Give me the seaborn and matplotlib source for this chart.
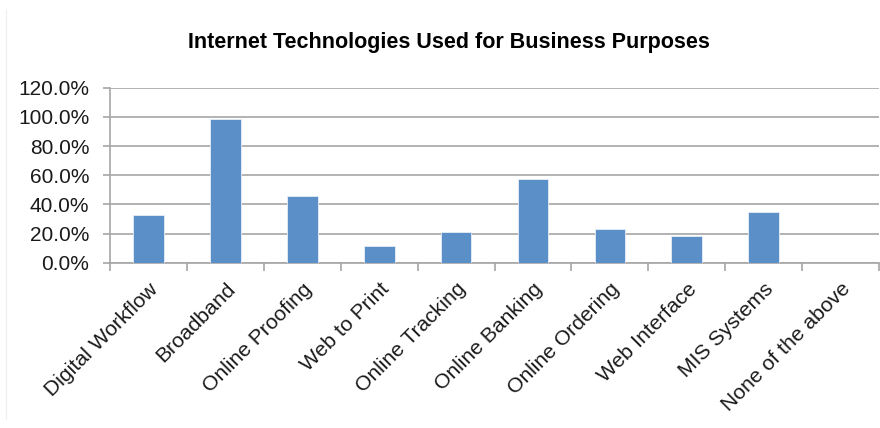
import matplotlib
matplotlib.use("Agg")
import matplotlib.pyplot as plt
import seaborn as sns
import pandas as pd
import numpy as np
from matplotlib.ticker import FixedLocator, PercentFormatter

categories = ["Digital Workflow", "Broadband", "Online Proofing", "Web to Print",
              "Online Tracking", "Online Banking", "Online Ordering", "Web Interface",
              "MIS Systems", "None of the above"]
shares = [33.0, 98.6, 46.1, 11.7, 21.3, 57.6, 23.0, 18.4, 34.7, 0.0]
y_ticks = [0, 20, 40, 60, 80, 100, 120]
title = "Internet Technologies Used for Business Purposes"

sns.set_theme(style="white")
plt.rcParams["font.family"] = ["Liberation Sans", "DejaVu Sans"]

df = pd.DataFrame({"category": categories, "share": shares})

fig = plt.figure(figsize=(8.8, 4.28), dpi=100)
ax = fig.add_axes([0.125, 0.386, 0.874, 0.409])

sns.barplot(data=df, x="category", y="share", color="#5B8FC7", width=0.4,
            edgecolor="#e6eef7", linewidth=0.6, saturation=1, ax=ax, zorder=3)

grid_color = "#a6a6a6"
ax.set_ylim(0, 120)
ax.set_xlim(-0.5, len(categories) - 0.5)
ax.yaxis.set_major_locator(FixedLocator(y_ticks))
ax.yaxis.set_major_formatter(PercentFormatter(decimals=1))
ax.grid(axis="y", color=grid_color, linewidth=1.2, zorder=0)
ax.set_axisbelow(True)

for side in ["top", "right"]:
    ax.spines[side].set_visible(False)
for side in ["left", "bottom"]:
    ax.spines[side].set_color(grid_color)
    ax.spines[side].set_linewidth(1.2)

ax.set_xlabel("")
ax.set_ylabel("")

# category labels centred on bars, ticks on category boundaries
ax.set_xticks(range(len(categories)))
ax.set_xticklabels(categories, rotation=45, ha="right", rotation_mode="anchor",
                   fontsize=15.2, color="#1a1a1a")
ax.tick_params(axis="x", which="major", length=0, pad=12)
ax.set_xticks(np.arange(-0.5, len(categories), 1.0), minor=True)
ax.tick_params(axis="x", which="minor", length=6, width=1.2, color=grid_color,
               direction="out", bottom=True)
ax.tick_params(axis="y", which="major", length=5, width=1.2, color=grid_color,
               direction="out", left=True, labelsize=15, labelcolor="#1a1a1a", pad=10)

fig.text(0.51, 0.9, title, ha="center", va="center", fontsize=15.5,
         fontweight="bold", color="#000000")

fig.add_artist(plt.Line2D([0.007, 0.007], [0.02, 0.98], transform=fig.transFigure,
                          color="#f0f0f0", linewidth=1))

fig.savefig("out.png", dpi=100)
